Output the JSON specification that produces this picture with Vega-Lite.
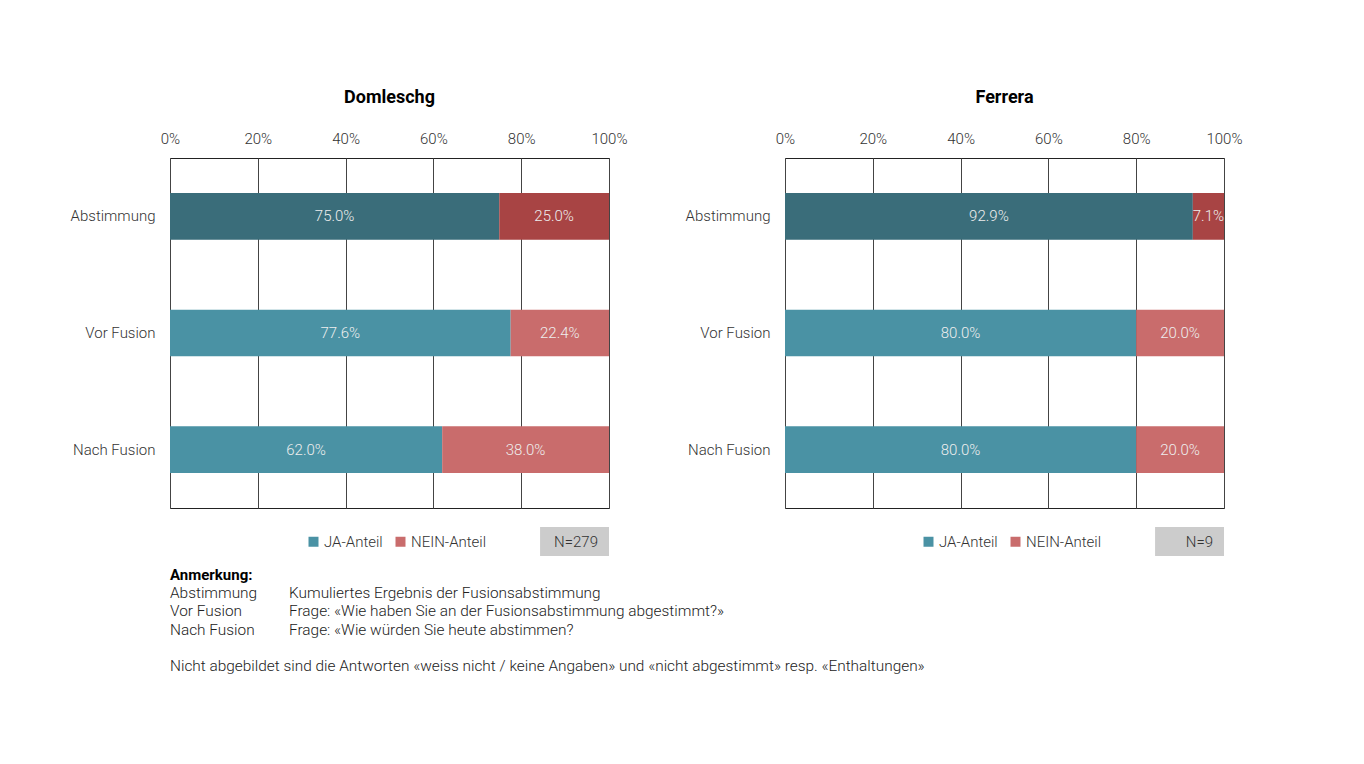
{
  "$schema": "https://vega.github.io/schema/vega-lite/v6.json",
  "padding": {"left": 69, "top": 88, "right": 10, "bottom": 10},
  "background": "white",
  "config": {
    "font": "Roboto",
    "view": {"stroke": "#222222", "strokeWidth": 1},
    "title": {"fontSize": 18, "fontWeight": "bold", "color": "#000000", "anchor": "middle", "offset": 24},
    "axis": {"labelFont": "Roboto", "labelFontSize": 15, "labelColor": "#333333", "labelFontWeight": 300}
  },
  "datasets": {
    "werte": [
      {"gemeinde": "Domleschg", "frage": "Abstimmung", "serie": "JA-Anteil", "wert": 75.0},
      {"gemeinde": "Domleschg", "frage": "Abstimmung", "serie": "NEIN-Anteil", "wert": 25.0},
      {"gemeinde": "Domleschg", "frage": "Vor Fusion", "serie": "JA-Anteil", "wert": 77.6},
      {"gemeinde": "Domleschg", "frage": "Vor Fusion", "serie": "NEIN-Anteil", "wert": 22.4},
      {"gemeinde": "Domleschg", "frage": "Nach Fusion", "serie": "JA-Anteil", "wert": 62.0},
      {"gemeinde": "Domleschg", "frage": "Nach Fusion", "serie": "NEIN-Anteil", "wert": 38.0},
      {"gemeinde": "Ferrera", "frage": "Abstimmung", "serie": "JA-Anteil", "wert": 92.9},
      {"gemeinde": "Ferrera", "frage": "Abstimmung", "serie": "NEIN-Anteil", "wert": 7.1},
      {"gemeinde": "Ferrera", "frage": "Vor Fusion", "serie": "JA-Anteil", "wert": 80.0},
      {"gemeinde": "Ferrera", "frage": "Vor Fusion", "serie": "NEIN-Anteil", "wert": 20.0},
      {"gemeinde": "Ferrera", "frage": "Nach Fusion", "serie": "JA-Anteil", "wert": 80.0},
      {"gemeinde": "Ferrera", "frage": "Nach Fusion", "serie": "NEIN-Anteil", "wert": 20.0}
    ],
    "nbox": [
      {"gemeinde": "Domleschg", "n": "N=279"},
      {"gemeinde": "Ferrera", "n": "N=9"}
    ],
    "notes": [
      {"zeile": 1, "spalte": "Begriff", "text": "Anmerkung:", "kopf": true},
      {"zeile": 2, "spalte": "Begriff", "text": "Abstimmung", "kopf": false},
      {"zeile": 2, "spalte": "Erklärung", "text": "Kumuliertes Ergebnis der Fusionsabstimmung", "kopf": false},
      {"zeile": 3, "spalte": "Begriff", "text": "Vor Fusion", "kopf": false},
      {"zeile": 3, "spalte": "Erklärung", "text": "Frage: «Wie haben Sie an der Fusionsabstimmung abgestimmt?»", "kopf": false},
      {"zeile": 4, "spalte": "Begriff", "text": "Nach Fusion", "kopf": false},
      {"zeile": 4, "spalte": "Erklärung", "text": "Frage: «Wie würden Sie heute abstimmen?", "kopf": false},
      {"zeile": 5, "spalte": "Begriff", "text": "", "kopf": false},
      {"zeile": 6, "spalte": "Begriff", "text": "Nicht abgebildet sind die Antworten «weiss nicht / keine Angaben» und «nicht abgestimmt» resp. «Enthaltungen»", "kopf": false}
    ]
  },
  "columns": 2,
  "bounds": "flush",
  "spacing": {"column": 176, "row": 19},
  "resolve": {"scale": {"color": "independent", "x": "independent", "y": "independent"}, "legend": {"color": "independent"}},
  "concat": [
    {
      "title": "Domleschg",
      "width": 439, "height": 350,
      "data": {"name": "werte"},
      "transform": [
        {"filter": "datum.gemeinde === 'Domleschg'"},
        {"stack": "wert", "groupby": ["frage"], "sort": [{"field": "serie", "order": "ascending"}], "as": ["x0", "x1"]},
        {"calculate": "(datum.x0 + datum.x1) / 2", "as": "xm"},
        {"calculate": "format(datum.wert, '.1f') + '%'", "as": "label"}
      ],
      "encoding": {
        "y": {"field": "frage", "type": "nominal", "sort": ["Abstimmung", "Vor Fusion", "Nach Fusion"],
              "scale": {"paddingInner": 0.6, "paddingOuter": 0.3},
              "axis": {"title": null, "ticks": false, "domain": false, "labelPadding": 15, "grid": false}}
      },
      "layer": [
        {
          "mark": {"type": "bar"},
          "encoding": {
            "x": {"field": "x0", "type": "quantitative", "scale": {"domain": [0, 100], "nice": false},
                  "axis": {"orient": "top", "title": null, "values": [0, 20, 40, 60, 80, 100], "labelExpr": "datum.value + '%'", "labelFlush": false,
                           "grid": true, "gridColor": "#444444", "gridOpacity": 1, "domain": false, "ticks": false, "labelPadding": 12}},
            "x2": {"field": "x1"},
            "color": {
              "condition": [
                {"test": "datum.frage === 'Abstimmung' && datum.serie === 'JA-Anteil'", "value": "#3a6d7a"},
                {"test": "datum.frage === 'Abstimmung' && datum.serie === 'NEIN-Anteil'", "value": "#a84444"}
              ],
              "field": "serie", "type": "nominal",
              "scale": {"domain": ["JA-Anteil", "NEIN-Anteil"], "range": ["#4a92a4", "#c96c6c"]},
              "legend": {"title": null, "orient": "none", "legendX": 136, "legendY": 376, "direction": "horizontal",
                         "symbolType": "square", "symbolSize": 100, "symbolStrokeWidth": 0, "labelFontSize": 15, "labelFontWeight": 300,
                         "labelColor": "#333333", "labelOffset": 3, "columnPadding": 10, "padding": 0}
            }
          }
        },
        {
          "mark": {"type": "text", "color": "#eeeeee", "fontSize": 15, "fontWeight": 300, "baseline": "middle"},
          "encoding": {
            "x": {"field": "xm", "type": "quantitative"},
            "text": {"field": "label"}
          }
        }
      ]
    },
    {
      "title": "Ferrera",
      "width": 439, "height": 350,
      "data": {"name": "werte"},
      "transform": [
        {"filter": "datum.gemeinde === 'Ferrera'"},
        {"stack": "wert", "groupby": ["frage"], "sort": [{"field": "serie", "order": "ascending"}], "as": ["x0", "x1"]},
        {"calculate": "(datum.x0 + datum.x1) / 2", "as": "xm"},
        {"calculate": "format(datum.wert, '.1f') + '%'", "as": "label"}
      ],
      "encoding": {
        "y": {"field": "frage", "type": "nominal", "sort": ["Abstimmung", "Vor Fusion", "Nach Fusion"],
              "scale": {"paddingInner": 0.6, "paddingOuter": 0.3},
              "axis": {"title": null, "ticks": false, "domain": false, "labelPadding": 15, "grid": false}}
      },
      "layer": [
        {
          "mark": {"type": "bar"},
          "encoding": {
            "x": {"field": "x0", "type": "quantitative", "scale": {"domain": [0, 100], "nice": false},
                  "axis": {"orient": "top", "title": null, "values": [0, 20, 40, 60, 80, 100], "labelExpr": "datum.value + '%'", "labelFlush": false,
                           "grid": true, "gridColor": "#444444", "gridOpacity": 1, "domain": false, "ticks": false, "labelPadding": 12}},
            "x2": {"field": "x1"},
            "color": {
              "condition": [
                {"test": "datum.frage === 'Abstimmung' && datum.serie === 'JA-Anteil'", "value": "#3a6d7a"},
                {"test": "datum.frage === 'Abstimmung' && datum.serie === 'NEIN-Anteil'", "value": "#a84444"}
              ],
              "field": "serie", "type": "nominal",
              "scale": {"domain": ["JA-Anteil", "NEIN-Anteil"], "range": ["#4a92a4", "#c96c6c"]},
              "legend": {"title": null, "orient": "none", "legendX": 136, "legendY": 376, "direction": "horizontal",
                         "symbolType": "square", "symbolSize": 100, "symbolStrokeWidth": 0, "labelFontSize": 15, "labelFontWeight": 300,
                         "labelColor": "#333333", "labelOffset": 3, "columnPadding": 10, "padding": 0}
            }
          }
        },
        {
          "mark": {"type": "text", "color": "#eeeeee", "fontSize": 15, "fontWeight": 300, "baseline": "middle"},
          "encoding": {
            "x": {"field": "xm", "type": "quantitative"},
            "text": {"field": "label"}
          }
        }
      ]
    },
    {
      "width": 439, "height": 29,
      "view": {"stroke": null},
      "data": {"name": "nbox"},
      "transform": [{"filter": "datum.gemeinde === 'Domleschg'"}],
      "layer": [
        {"mark": {"type": "rect", "color": "#cccccc"},
         "encoding": {"x": {"datum": 84.3, "type": "quantitative", "scale": {"domain": [0, 100], "nice": false}, "axis": null}, "x2": {"datum": 100}}},
        {"mark": {"type": "text", "align": "right", "dx": -11, "fontSize": 15, "fontWeight": 300, "color": "#333333", "baseline": "middle"},
         "encoding": {"x": {"datum": 100, "type": "quantitative"}, "text": {"field": "n"}}}
      ]
    },
    {
      "width": 439, "height": 29,
      "view": {"stroke": null},
      "data": {"name": "nbox"},
      "transform": [{"filter": "datum.gemeinde === 'Ferrera'"}],
      "layer": [
        {"mark": {"type": "rect", "color": "#cccccc"},
         "encoding": {"x": {"datum": 84.3, "type": "quantitative", "scale": {"domain": [0, 100], "nice": false}, "axis": null}, "x2": {"datum": 100}}},
        {"mark": {"type": "text", "align": "right", "dx": -11, "fontSize": 15, "fontWeight": 300, "color": "#333333", "baseline": "middle"},
         "encoding": {"x": {"datum": 100, "type": "quantitative"}, "text": {"field": "n"}}}
      ]
    },
    {
      "width": 119, "height": 91,
      "view": {"stroke": null},
      "data": {"name": "notes"},
      "encoding": {
        "x": {"field": "spalte", "type": "nominal", "scale": {"type": "point", "domain": ["Begriff", "Erklärung"], "padding": 0}, "axis": null},
        "y": {"field": "zeile", "type": "ordinal", "scale": {"type": "point", "padding": 0}, "axis": null},
        "text": {"field": "text"}
      },
      "layer": [
        {"transform": [{"filter": "datum.kopf"}],
         "mark": {"type": "text", "align": "left", "baseline": "middle", "fontSize": 15, "fontWeight": "bold", "color": "#000000"}},
        {"transform": [{"filter": "!datum.kopf"}],
         "mark": {"type": "text", "align": "left", "baseline": "middle", "fontSize": 15.4, "fontWeight": 300, "color": "#222222"}}
      ]
    }
  ]
}
